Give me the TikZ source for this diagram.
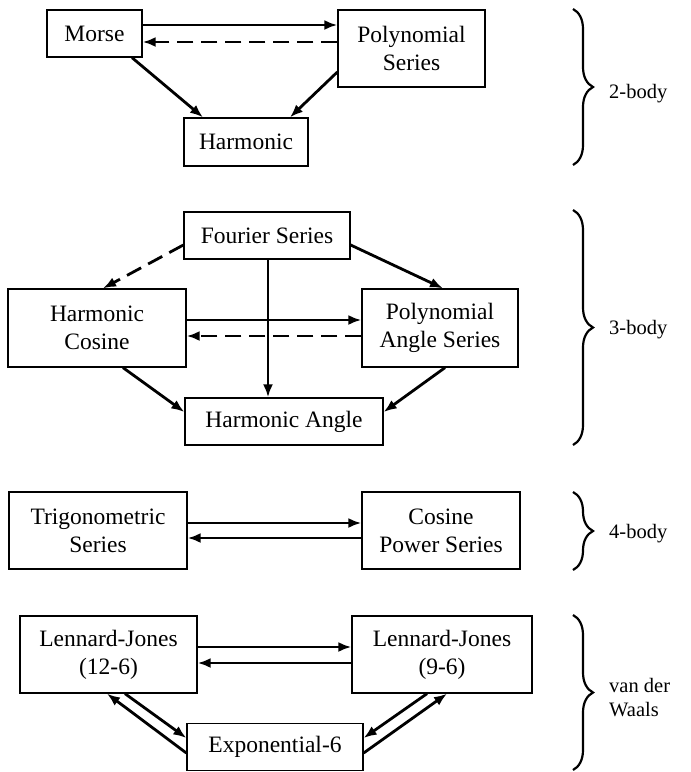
\documentclass[tikz,border=0pt]{standalone}
\usepackage{fontspec}
\setmainfont{Liberation Serif}
\usetikzlibrary{arrows.meta,decorations.pathreplacing,calc}
\begin{document}
\begin{tikzpicture}[x=1pt,y=-1pt,
  box/.style={draw, line width=1.3pt, inner sep=0pt, align=center,
    font=\fontsize{23.5}{28}\selectfont},
  arr/.style={line width=2.8pt, -{Latex[length=13pt,width=10pt]}},
  dsh/.style={arr, dash pattern=on 16pt off 8pt},
  lbl/.style={anchor=west, align=left, inner sep=0pt,
    font=\fontsize{20.5}{24}\selectfont},
  brc/.style={decorate, decoration={brace, amplitude=20pt}, line width=2.2pt}]
\useasboundingbox (0,0) rectangle (691,772);

% 2-body
\node[box, minimum width=95pt, minimum height=47pt] (morse) at (94.5,33.5) {Morse};
\node[box, minimum width=147pt, minimum height=77pt] (poly) at (411.5,48.5) {Polynomial\\Series};
\node[box, minimum width=124pt, minimum height=48pt] (harm) at (246,142) {Harmonic};

\draw[arr] (morse.east |- 0,25) -- (poly.west |- 0,25);
\draw[dsh] (poly.west |- 0,42) -- (morse.east |- 0,42);
\draw[arr] (morse.south -| 132,0) -- (harm.north -| 203,0);
\draw[arr] (poly.west |- 0,72) -- (harm.north -| 290,0);

% 3-body
\node[box, minimum width=166pt, minimum height=47pt] (four) at (267,235.5) {Fourier Series};
\node[box, minimum width=178pt, minimum height=78pt] (hcos) at (97,328) {Harmonic\\Cosine};
\node[box, minimum width=156pt, minimum height=78pt] (pas) at (440,328) {Polynomial\\Angle Series};
\node[box, minimum width=198pt, minimum height=47pt] (hang) at (284,421.5) {Harmonic Angle};

\draw[dsh] (four.west |- 0,245) -- (hcos.north -| 103,0);
\draw[arr] (four.east |- 0,245) -- (pas.north -| 443,0);
\draw[arr] (four.south -| 268,0) -- (hang.north -| 268,0);
\draw[arr] (hcos.east |- 0,320) -- (pas.west |- 0,320);
\draw[dsh] (pas.west |- 0,336) -- (hcos.east |- 0,336);
\draw[arr] (hcos.south -| 123,0) -- (hang.west |- 0,412);
\draw[arr] (pas.south -| 445,0) -- (hang.east |- 0,412);

% 4-body
\node[box, minimum width=178pt, minimum height=77pt] (trig) at (98,530.5) {Trigonometric\\Series};
\node[box, minimum width=158pt, minimum height=77pt] (cps) at (441,530.5) {Cosine\\Power Series};

\draw[arr] (trig.east |- 0,523) -- (cps.west |- 0,523);
\draw[arr] (cps.west |- 0,538) -- (trig.east |- 0,538);

% van der Waals
\node[box, minimum width=177pt, minimum height=77pt] (lj12) at (108.5,654.5) {Lennard-Jones\\(12-6)};
\node[box, minimum width=180pt, minimum height=77pt] (lj96) at (442,654.5) {Lennard-Jones\\(9-6)};
\node[box, minimum width=176pt, minimum height=47pt] (exp6) at (275,747) {Exponential-6};

\draw[arr] (lj12.east |- 0,647) -- (lj96.west |- 0,647);
\draw[arr] (lj96.west |- 0,663) -- (lj12.east |- 0,663);
\draw[arr] (lj12.south -| 125,0) -- (exp6.west |- 0,738);
\draw[arr] (exp6.west |- 0,753) -- (lj12.south -| 107,0);
\draw[arr] (lj96.south -| 427,0) -- (exp6.east |- 0,738);
\draw[arr] (exp6.east |- 0,753) -- (lj96.south -| 447,0);

% braces and labels
\coordinate (b2t) at (573,9);   \coordinate (b2b) at (573,165);
\coordinate (b3t) at (573,210); \coordinate (b3b) at (573,445);
\coordinate (b4t) at (573,492); \coordinate (b4b) at (573,570);
\coordinate (bvt) at (573,615); \coordinate (bvb) at (573,770);
\draw[brc] (b2t) -- (b2b);
\draw[brc] (b3t) -- (b3b);
\draw[brc] (b4t) -- (b4b);
\draw[brc] (bvt) -- (bvb);
\node[lbl] (l2) at (609,94) {2-body};
\node[lbl] (l3) at (609,330) {3-body};
\node[lbl] (l4) at (609,534) {4-body};
\node[lbl] (lv) at (609,698) {van der\\Waals};
\end{tikzpicture}
\end{document}
